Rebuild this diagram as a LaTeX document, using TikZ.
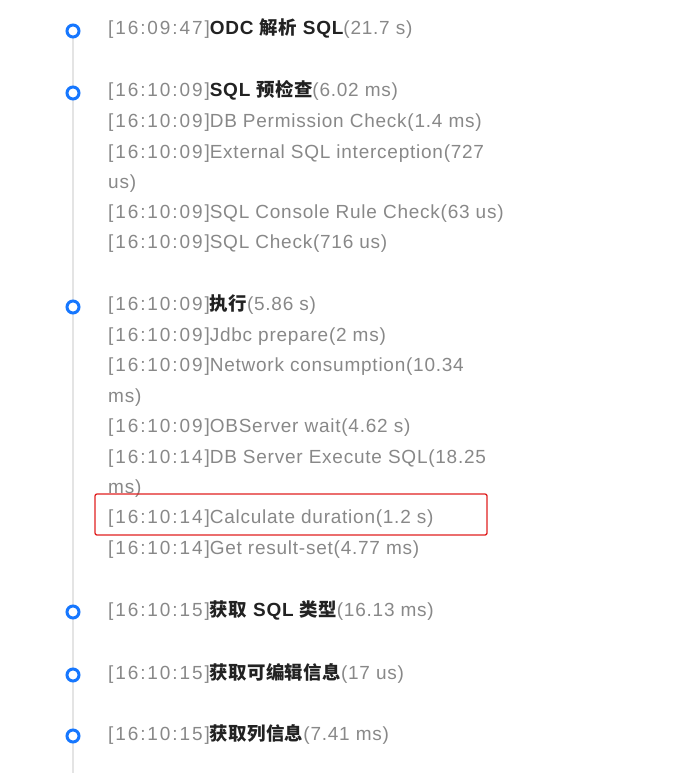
\documentclass[tikz,border=0pt]{standalone}
\usepackage{fontspec}
\setmainfont{Liberation Sans}[LetterSpace=4]
\newfontfamily\cjk{Noto Sans CJK SC}[LetterSpace=2,Scale=0.97]
\definecolor{tsgray}{HTML}{888888}
\definecolor{darktxt}{HTML}{222222}
\definecolor{dotblue}{HTML}{1677FF}
\definecolor{linegray}{HTML}{E4E4E4}
\definecolor{boxred}{HTML}{E02020}
\newcommand{\tstamp}[1]{{\addfontfeature{LetterSpace=10}\relax[#1]}}
\newcommand{\bd}[1]{{\color{darktxt}\bfseries #1}}
\newcommand{\zh}[1]{{\cjk\bfseries #1}}
\tikzset{
  txt/.style={anchor=base west, inner sep=0pt, text=tsgray, font=\fontsize{19}{23}\selectfont},
  dot/.style={circle, draw=dotblue, line width=3pt, fill=white, minimum size=12pt, inner sep=0pt},
  rail/.style={draw=linegray, line width=2.5pt},
  redbox/.style={draw=boxred, line width=1.3pt, rounded corners=2pt}
}
\begin{document}
\begin{tikzpicture}[x=1pt,y=-1pt]
\useasboundingbox (0,0) rectangle (690,773);
\coordinate (railend) at (73,773);
% dots
\coordinate (c1) at (73,31);
\coordinate (c2) at (73,93);
\coordinate (c3) at (73,307);
\coordinate (c4) at (73,612);
\coordinate (c5) at (73,675);
\coordinate (c6) at (73,736);
\draw[rail] (c1) -- (railend);
\node[dot] (d1) at (c1) {};
\node[dot] (d2) at (c2) {};
\node[dot] (d3) at (c3) {};
\node[dot] (d4) at (c4) {};
\node[dot] (d5) at (c5) {};
\node[dot] (d6) at (c6) {};
% texts
\node[txt] (l1) at (108,35) {\tstamp{16:09:47}\bd{ODC \zh{解析} SQL}(21.7 s)};
\node[txt] (l2) at (108,97) {\tstamp{16:10:09}\bd{SQL \zh{预检查}}(6.02 ms)};
\node[txt] (l3) at (108,127.5) {\tstamp{16:10:09}DB Permission Check(1.4 ms)};
\node[txt] (l4) at (108,158) {\tstamp{16:10:09}External SQL interception(727};
\node[txt] (l5) at (108,188.5) {us)};
\node[txt] (l6) at (108,218.5) {\tstamp{16:10:09}SQL Console Rule Check(63 us)};
\node[txt] (l7) at (108,248.5) {\tstamp{16:10:09}SQL Check(716 us)};
\node[txt] (l8) at (108,310.5) {\tstamp{16:10:09}\bd{\zh{执行}}(5.86 s)};
\node[txt] (l9) at (108,341) {\tstamp{16:10:09}Jdbc prepare(2 ms)};
\node[txt] (l10) at (108,371.5) {\tstamp{16:10:09}Network consumption(10.34};
\node[txt] (l11) at (108,402) {ms)};
\node[txt] (l12) at (108,432.5) {\tstamp{16:10:09}OBServer wait(4.62 s)};
\node[txt] (l13) at (108,463) {\tstamp{16:10:14}DB Server Execute SQL(18.25};
\node[txt] (l14) at (108,493) {ms)};
\node[txt] (l15) at (108,523.5) {\tstamp{16:10:14}Calculate duration(1.2 s)};
\node[txt] (l16) at (108,554) {\tstamp{16:10:14}Get result-set(4.77 ms)};
\node[txt] (l17) at (108,616) {\tstamp{16:10:15}\bd{\zh{获取} SQL \zh{类型}}(16.13 ms)};
\node[txt] (l18) at (108,679) {\tstamp{16:10:15}\bd{\zh{获取可编辑信息}}(17 us)};
\node[txt] (l19) at (108,740) {\tstamp{16:10:15}\bd{\zh{获取列信息}}(7.41 ms)};
% highlight box
\draw[redbox] (95,494) rectangle (487,535);
\end{tikzpicture}
\end{document}
